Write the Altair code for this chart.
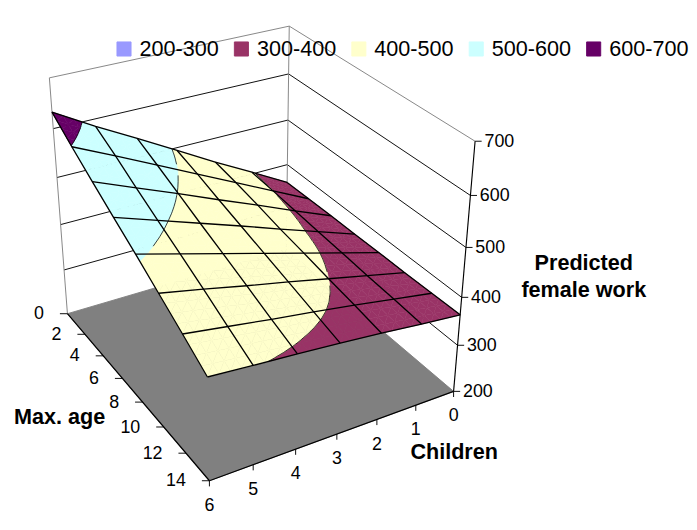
import numpy as np
import pandas as pd
import altair as alt

# grid of the surface: max. age (rows) x number of children (columns)
AGES = [0, 2, 4, 6, 8, 10, 12, 14]
CHILDREN = [0, 1, 2, 3, 4, 5, 6]

# predicted female work, one list per max. age
work_age0 = [359, 404, 448, 494, 540, 585, 633]
work_age2 = [360, 400, 440, 480, 520, 560, 599]
work_age4 = [361, 395, 430, 464, 499, 533, 567]
work_age6 = [361, 390, 419, 449, 478, 507, 536]
work_age8 = [362, 386, 410, 434, 458, 482, 506]
work_age10 = [362, 381, 400, 419, 437, 456, 474]
work_age12 = [363, 377, 391, 404, 416, 429, 442]
work_age14 = [364, 372, 381, 389, 396, 402, 409]

Z_TICKS = [200, 300, 400, 500, 600, 700]
BANDS = ["200-300", "300-400", "400-500", "500-600", "600-700"]
BAND_COLORS = ["#9999FF", "#993366", "#FFFFCC", "#CCFFFF", "#660066"]

# 3d view (perspective camera), in page pixels
AZIMUTH = 0.522
ELEVATION = 0.5202
DISTANCE = 5.127
FOCAL = 1522.4
CENTER_X, CENTER_Y = 268.3, 233.2
DEPTH_RATIO = 1.168
HEIGHT_RATIO = 1.001
W, H = 689, 514
FONT = "Liberation Sans"

work = np.array([work_age0, work_age2, work_age4, work_age6,
                 work_age8, work_age10, work_age12, work_age14], float)
c_max, a_max = CHILDREN[-1], AGES[-1]
z_min, z_max = Z_TICKS[0], Z_TICKS[-1]


def project(c, a, z):
    c, a, z = (np.asarray(v, float) for v in (c, a, z))
    X = 0.5 - c / c_max
    Y = DEPTH_RATIO * (0.5 - a / a_max)
    Z = HEIGHT_RATIO * ((z - z_min) / (z_max - z_min) - 0.5)
    x1 = X * np.cos(AZIMUTH) - Y * np.sin(AZIMUTH)
    d1 = X * np.sin(AZIMUTH) + Y * np.cos(AZIMUTH)
    vy = Z * np.cos(ELEVATION) + d1 * np.sin(ELEVATION)
    vz = d1 * np.cos(ELEVATION) - Z * np.sin(ELEVATION)
    return CENTER_X + FOCAL * x1 / (DISTANCE + vz), CENTER_Y - FOCAL * vy / (DISTANCE + vz)


def clip(poly, level, above):
    out = []
    for i in range(len(poly)):
        p, q = poly[i], poly[(i + 1) % len(poly)]
        pin = p[2] >= level if above else p[2] <= level
        qin = q[2] >= level if above else q[2] <= level
        if pin:
            out.append(p)
        if pin != qin:
            t = (level - p[2]) / (q[2] - p[2])
            out.append(tuple(p[m] + t * (q[m] - p[m]) for m in range(3)))
    return out


# split every cell into small bilinear pieces, cut them into the colour bands
SUB = 4
patches, contours = [], []
pid = 0
for i in range(len(AGES) - 1):
    for j in range(len(CHILDREN) - 1):
        z00, z01 = work[i, j], work[i, j + 1]
        z10, z11 = work[i + 1, j], work[i + 1, j + 1]

        def pt(s, t):
            z = z00 * (1 - s) * (1 - t) + z01 * (1 - s) * t + z10 * s * (1 - t) + z11 * s * t
            return (CHILDREN[j] + t * (CHILDREN[j + 1] - CHILDREN[j]),
                    AGES[i] + s * (AGES[i + 1] - AGES[i]), z)

        for p in range(SUB):
            for q in range(SUB):
                s0, s1, t0, t1 = p / SUB, (p + 1) / SUB, q / SUB, (q + 1) / SUB
                corners = [pt(s0, t0), pt(s0, t1), pt(s1, t1), pt(s1, t0)]
                for tri in (corners[:3], [corners[0], corners[2], corners[3]]):
                    for b, name in enumerate(BANDS):
                        lo, hi = z_min + 100 * b, z_min + 100 * (b + 1)
                        poly = clip(clip(tri, lo, True), hi, False)
                        if len(poly) < 3:
                            continue
                        poly = poly + [poly[0]]
                        arr = np.array(poly)
                        px, py = project(arr[:, 0], arr[:, 1], arr[:, 2])
                        for k in range(len(poly)):
                            patches.append({"poly": pid, "k": k, "band": name, "px": px[k], "py": py[k]})
                        pid += 1
                    for level in Z_TICKS[1:-1]:
                        cross = []
                        for m in range(3):
                            p1, p2 = tri[m], tri[(m + 1) % 3]
                            if (p1[2] - level) * (p2[2] - level) < 0:
                                t = (level - p1[2]) / (p2[2] - p1[2])
                                cross.append([p1[n] + t * (p2[n] - p1[n]) for n in range(3)])
                        if len(cross) == 2:
                            x, y = project([cross[0][0], cross[1][0]], [cross[0][1], cross[1][1]], [level, level])
                            contours.append({"px": x[0], "py": y[0], "px2": x[1], "py2": y[1]})

patches = pd.DataFrame(patches)
contours = pd.DataFrame(contours)

# grid lines drawn on the surface
grid = []
for i, a in enumerate(AGES):
    x, y = project(CHILDREN, [a] * len(CHILDREN), work[i])
    for k in range(len(CHILDREN)):
        grid.append({"line": f"a{a}", "k": k, "px": x[k], "py": y[k]})
for j, c in enumerate(CHILDREN):
    x, y = project([c] * len(AGES), AGES, work[:, j])
    for k in range(len(AGES)):
        grid.append({"line": f"c{c}", "k": k, "px": x[k], "py": y[k]})
grid = pd.DataFrame(grid)


def segments(ends):
    rows = []
    for p1, p2 in ends:
        x, y = project([p1[0], p2[0]], [p1[1], p2[1]], [p1[2], p2[2]])
        rows.append({"px": x[0], "py": y[0], "px2": x[1], "py2": y[1]})
    return pd.DataFrame(rows)


# back walls
wall_grid = segments(
    [((c_max, 0, z), (0, 0, z)) for z in Z_TICKS[1:-1]]
    + [((0, 0, z), (0, a_max, z)) for z in Z_TICKS[1:-1]])
wall_edges = segments([
    ((c_max, 0, z_max), (0, 0, z_max)), ((0, 0, z_max), (0, a_max, z_max)),
    ((c_max, 0, z_min), (c_max, 0, z_max)), ((0, 0, z_min), (0, 0, z_max))])

# floor
fc = [(c_max, 0), (c_max, a_max), (0, a_max), (0, 0), (c_max, 0)]
fx, fy = project([p[0] for p in fc], [p[1] for p in fc], [z_min] * len(fc))
floor = pd.DataFrame({"k": range(len(fc)), "px": fx, "py": fy})
floor_edges = segments([((c_max, 0, z_min), (c_max, a_max, z_min)),
                        ((c_max, a_max, z_min), (0, a_max, z_min))])

# axes
zx, zy = project([0] * len(Z_TICKS), [a_max] * len(Z_TICKS), Z_TICKS)
z_axis = pd.DataFrame({"label": [str(v) for v in Z_TICKS], "px": zx, "py": zy, "px2": zx + 7})
z_line = segments([((0, a_max, z_min), (0, a_max, z_max))])
ax_, ay_ = project([c_max] * len(AGES), AGES, [z_min] * len(AGES))
age_axis = pd.DataFrame({"label": [str(v) for v in AGES], "px": ax_, "py": ay_, "px2": ax_ - 8})
cx_, cy_ = project(CHILDREN, [a_max] * len(CHILDREN), [z_min] * len(CHILDREN))
child_axis = pd.DataFrame({"label": [str(v) for v in CHILDREN], "px": cx_, "py": cy_, "py2": cy_ + 6})

xs = alt.Scale(domain=[8, 8 + W], nice=False, zero=False)
ys = alt.Scale(domain=[8 + H, 8], nice=False, zero=False)
X = alt.X("px:Q", scale=xs, axis=None)
Y = alt.Y("py:Q", scale=ys, axis=None)
X2 = alt.X2("px2:Q")
Y2 = alt.Y2("py2:Q")

walls_l = alt.Chart(wall_grid).mark_rule(color="black", strokeWidth=1).encode(x=X, y=Y, x2=X2, y2=Y2)
edges_l = alt.Chart(wall_edges).mark_rule(color="#808080", strokeWidth=1).encode(x=X, y=Y, x2=X2, y2=Y2)
floor_l = alt.Chart(floor).mark_line(filled=True, fill="#808080", stroke="#808080", strokeWidth=1).encode(
    x=X, y=Y, order="k:Q")
floor_e = alt.Chart(floor_edges).mark_rule(color="black", strokeWidth=1.3).encode(x=X, y=Y, x2=X2, y2=Y2)

surface_l = alt.Chart(patches).mark_line(filled=True, strokeWidth=0.6, strokeJoin="round").encode(
    x=X, y=Y, detail="poly:N", order="k:Q",
    color=alt.Color("band:N", scale=alt.Scale(domain=BANDS, range=BAND_COLORS),
                    legend=alt.Legend(title=None, orient="none", legendX=112, legendY=15,
                                      direction="horizontal", columns=5, symbolType="square",
                                      symbolSize=225, symbolStrokeColor="black", symbolStrokeWidth=1,
                                      symbolOpacity=1, labelFont=FONT, labelFontSize=23,
                                      labelColor="black", labelOffset=5, columnPadding=12, padding=0)),
    stroke=alt.Stroke("band:N", scale=alt.Scale(domain=BANDS, range=BAND_COLORS), legend=None),
)
contour_l = alt.Chart(contours).mark_rule(color="black", strokeWidth=0.8).encode(x=X, y=Y, x2=X2, y2=Y2)
grid_l = alt.Chart(grid).mark_line(color="black", strokeWidth=1.4).encode(
    x=X, y=Y, detail="line:N", order="k:Q")

zline_l = alt.Chart(z_line).mark_rule(color="black", strokeWidth=1.2).encode(x=X, y=Y, x2=X2, y2=Y2)
ztick_l = alt.Chart(z_axis).mark_rule(color="black").encode(x=X, y=Y, x2=X2)
zlab_l = alt.Chart(z_axis).mark_text(align="left", baseline="middle", dx=10, font=FONT,
                                     fontSize=19).encode(x=X, y=Y, text="label:N")
atick_l = alt.Chart(age_axis).mark_rule(color="black").encode(x=X, y=Y, x2=X2)
alab_l = alt.Chart(age_axis).mark_text(align="right", baseline="middle", dx=-25, font=FONT,
                                       fontSize=19).encode(x=X, y=Y, text="label:N")
ctick_l = alt.Chart(child_axis).mark_rule(color="black").encode(x=X, y=Y, y2=Y2)
clab_l = alt.Chart(child_axis).mark_text(align="center", baseline="middle", dy=26, font=FONT,
                                         fontSize=19).encode(x=X, y=Y, text="label:N")

title_z = alt.Chart().mark_text(text=["Predicted", "female work"], fontWeight="bold", font=FONT,
                                fontSize=23, lineHeight=29, align="center", baseline="middle").encode(
    x=alt.value(613), y=alt.value(255))
title_a = alt.Chart().mark_text(text="Max. age", fontWeight="bold", font=FONT, fontSize=23,
                                align="center", baseline="middle").encode(x=alt.value(55), y=alt.value(419))
title_c = alt.Chart().mark_text(text="Children", fontWeight="bold", font=FONT, fontSize=23,
                                align="center", baseline="middle").encode(x=alt.value(475), y=alt.value(456))

chart = alt.layer(
    walls_l, edges_l, floor_l, surface_l, contour_l, grid_l, floor_e,
    zline_l, ztick_l, zlab_l, atick_l, alab_l, ctick_l, clab_l,
    title_z, title_a, title_c,
).properties(width=W, height=H, padding=0).configure_view(stroke=None)

chart.save("out.html", embed_options={"renderer": "svg", "actions": False})
